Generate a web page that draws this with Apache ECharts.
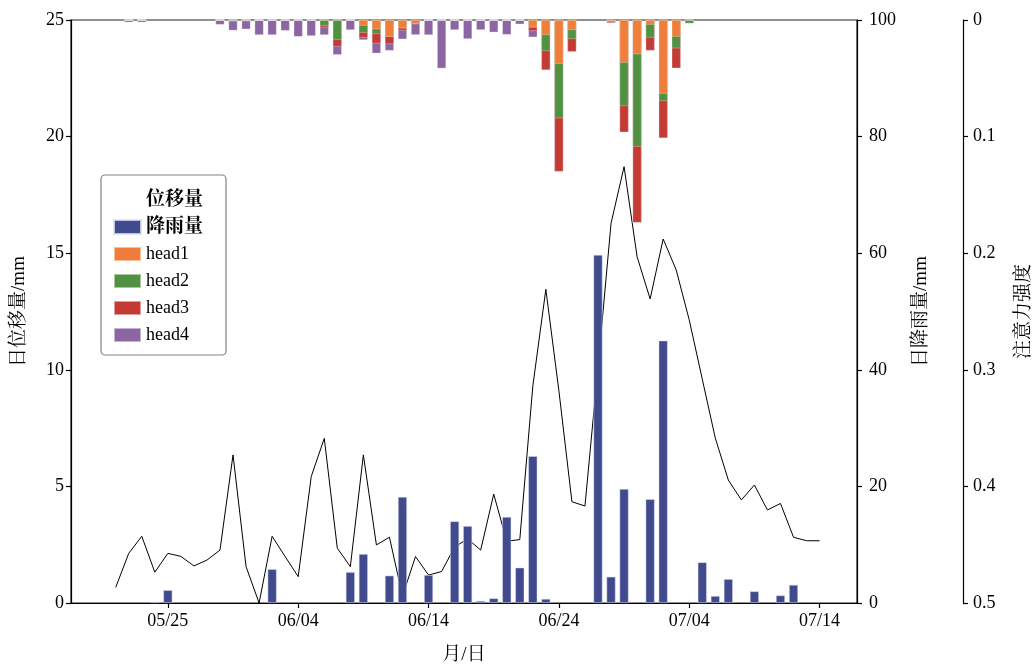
<!DOCTYPE html>
<html>
<head>
<meta charset="utf-8">
<script src="https://cdn.jsdelivr.net/npm/echarts@6/dist/echarts.min.js"></script>
<style>
html,body{margin:0;padding:0;background:#fff;}
#chart{width:1035px;height:666px;}
</style>
</head>
<body>
<div id="chart"></div>
<script>
// ---- data ----
const lineDates = ['05/21','05/22','05/23','05/24','05/25','05/26','05/27','05/28','05/29','05/30','05/31',
  '06/01','06/02','06/03','06/04','06/05','06/06','06/07','06/08','06/09','06/10','06/11','06/12','06/13','06/14',
  '06/15','06/16','06/17','06/18','06/19','06/20','06/21','06/22','06/23','06/24','06/25','06/26','06/27','06/28',
  '06/29','06/30','07/01','07/02','07/03','07/04','07/05','07/06','07/07','07/08','07/09','07/10','07/11','07/12',
  '07/13','07/14'];
const displacement = [0.67,2.13,2.86,1.32,2.13,2.0,1.59,1.84,2.27,6.35,1.56,
  0.0,2.86,1.99,1.13,5.42,7.06,2.35,1.56,6.35,2.49,2.82,0.3,1.99,1.2,
  1.35,2.4,2.75,2.27,4.67,2.65,2.72,9.3,13.45,9.1,4.34,4.16,10.1,16.28,
  18.71,14.85,13.04,15.61,14.28,12.14,9.6,7.07,5.27,4.42,5.06,3.99,4.27,2.82,
  2.67,2.67];

const rainDates = ['05/24','05/25','06/02','06/08','06/09','06/11','06/12','06/14','06/16','06/17','06/18','06/19',
  '06/20','06/21','06/22','06/23','06/27','06/28','06/29','07/01','07/02','07/05','07/06','07/07','07/09','07/11','07/12'];
const rainfall = [0.2,2.2,5.8,5.3,8.4,4.7,18.2,4.8,14.0,13.2,0.35,0.8,
  14.75,6.06,25.2,0.7,59.7,4.5,19.55,17.8,45.0,6.97,1.2,4.1,2.0,1.3,3.1];

const attDates = ['05/22','05/23','05/29','05/30','05/31','06/01','06/02','06/03','06/04','06/05','06/06','06/07',
  '06/08','06/09','06/10','06/11','06/12','06/13','06/14','06/15','06/16','06/17','06/18','06/19','06/20','06/21',
  '06/22','06/23','06/24','06/25','06/28','06/29','06/30','07/01','07/02','07/03','07/04'];
const head1 = [0,0,0,0,0,0,0,0,0,0,0,0,
  0,0.0049,0.008,0.0143,0.0071,0.0034,0,0,0,0,0,0,0,0,
  0.0063,0.0129,0.0377,0.0086,0.001,0.0366,0.0294,0.004,0.0632,0.0143,0];
const head2 = [0,0,0,0.001,0,0,0,0,0,0,0.0049,0.0171,
  0,0.006,0.004,0,0,0,0,0,0,0,0,0,0,0,
  0,0.0137,0.0466,0.0077,0.0005,0.0371,0.0792,0.0111,0.0063,0.01,0.0029];
const head3 = [0,0,0,0,0.001,0,0,0,0,0,0.0014,0.0057,
  0,0.0043,0.008,0.0063,0.002,0,0,0,0,0,0,0,0,0,
  0.0031,0.0163,0.0457,0.0109,0.001,0.0226,0.0652,0.0111,0.0317,0.0171,0];
const head4 = [0.002,0.002,0.004,0.008,0.007,0.0129,0.0129,0.0092,0.0143,0.0137,0.0066,0.0071,
  0.0086,0.002,0.0086,0.0057,0.0074,0.0094,0.0129,0.0415,0.0086,0.0163,0.0086,0.0106,0.0126,0.0037,
  0.0054,0,0,0,0,0,0,0,0,0,0];

const xTickLabels = ['05/25','06/04','06/14','06/24','07/04','07/14'];

// ---- helpers ----
const REF = Date.UTC(2020, 4, 25);
function day(s){ const [m,d] = s.split('/').map(Number); return (Date.UTC(2020, m-1, d) - REF) / 86400000; }
function pairs(dates, vals){ return dates.map((d,i)=>[day(d), vals[i]]); }
const xTicks = xTickLabels.map(day);

// stacked (cumulative) attention values: head1 at top, then head2, head3, head4 below
const heads = [head1, head2, head3, head4];
const cum = heads.map((_, k) => attDates.map((d, i) => {
  let s = 0; for (let j = 0; j <= k; j++) s += heads[j][i]; return s;
}));

const serif = "'Liberation Serif','Times New Roman','Noto Serif CJK SC','Noto Sans CJK SC',serif";
const C = { rain:'#414a8d', h1:'#f07e3b', h2:'#519141', h3:'#c43b36', h4:'#8c66a3' };
const headColors = [C.h1, C.h2, C.h3, C.h4];

const chart = echarts.init(document.getElementById('chart'));
const axisCommon = {
  axisLine:{show:true, onZero:false, lineStyle:{color:'#000', width:1.2}},
  axisTick:{show:true, inside:false, length:5, lineStyle:{color:'#000', width:1.2}},
  axisLabel:{color:'#000', fontFamily:serif, fontSize:18, margin:7},
  splitLine:{show:false},
  nameTextStyle:{color:'#000', fontFamily:serif, fontSize:19}
};
// draw head4 (total) first, head1 last so the segments appear stacked
const attSeries = [3,2,1,0].map(k => ({
  name:'head' + (k+1), type:'bar', xAxisIndex:0, yAxisIndex:2, barWidth:9, barGap:'-100%',
  itemStyle:{color:headColors[k], borderColor:'rgba(255,255,255,0.5)', borderWidth:0.6},
  data: pairs(attDates, cum[k]), z:3
}));

chart.setOption({
  animation:false,
  backgroundColor:'#fff',
  grid:{left:71, right:178, top:20, bottom:63, containLabel:false, outerBoundsMode:'none',
    show:true, borderColor:'#222', borderWidth:1.2, backgroundColor:'transparent'},
  legend:{
    orient:'vertical', left:101, top:175,
    padding:[15,23,10,12], itemGap:7, itemWidth:27, itemHeight:14,
    backgroundColor:'#fff', borderColor:'#8a7e7e', borderWidth:1.2, borderRadius:4,
    textStyle:{color:'#000', fontFamily:serif, fontSize:18, lineHeight:20},
    data:[
      {name:'位移量', icon:'rect', itemStyle:{color:'rgba(0,0,0,0)', borderWidth:0}, lineStyle:{opacity:0}, textStyle:{fontWeight:'bold', fontSize:19}},
      {name:'降雨量', icon:'rect', textStyle:{fontWeight:'bold', fontSize:19}},
      {name:'head1', icon:'rect'},
      {name:'head2', icon:'rect'},
      {name:'head3', icon:'rect'},
      {name:'head4', icon:'rect'}
    ]
  },
  xAxis:[Object.assign({}, axisCommon, {
    type:'value', min:-7.43, max:52.87,
    name:'月/日', nameLocation:'middle', nameGap:43,
    axisTick:Object.assign({}, axisCommon.axisTick, {customValues:xTicks}),
    axisLabel:Object.assign({}, axisCommon.axisLabel, {customValues:xTicks, margin:9,
      formatter:(v)=>{ const i = xTicks.indexOf(v); return i>=0 ? xTickLabels[i] : ''; }})
  })],
  yAxis:[
    Object.assign({}, axisCommon, {type:'value', position:'left', min:0, max:25, interval:5,
      name:'日位移量/mm', nameLocation:'middle', nameGap:42, nameRotate:90}),
    Object.assign({}, axisCommon, {type:'value', position:'right', min:0, max:100, interval:20,
      name:'日降雨量/mm', nameLocation:'middle', nameGap:55, nameRotate:90,
      axisLabel:Object.assign({}, axisCommon.axisLabel, {margin:12})}),
    Object.assign({}, axisCommon, {type:'value', position:'right', offset:106, min:0, max:0.5, interval:0.1, inverse:true,
      name:'注意力强度', nameLocation:'middle', nameGap:52, nameRotate:90,
      axisLabel:Object.assign({}, axisCommon.axisLabel, {margin:10, formatter:(v)=> (Math.round(v*10)/10).toString()})})
  ],
  series:[
    {name:'位移量', type:'line', xAxisIndex:0, yAxisIndex:0, data:pairs(lineDates, displacement),
      showSymbol:false, symbol:'none', lineStyle:{color:'#000', width:1}, itemStyle:{color:'#000'}, z:2},
    {name:'降雨量', type:'bar', xAxisIndex:0, yAxisIndex:1, barWidth:9, barGap:'-100%',
      itemStyle:{color:C.rain, borderColor:'rgba(220,225,245,0.8)', borderWidth:0.6},
      data:pairs(rainDates, rainfall), z:4}
  ].concat(attSeries)
});
</script>
</body>
</html>
